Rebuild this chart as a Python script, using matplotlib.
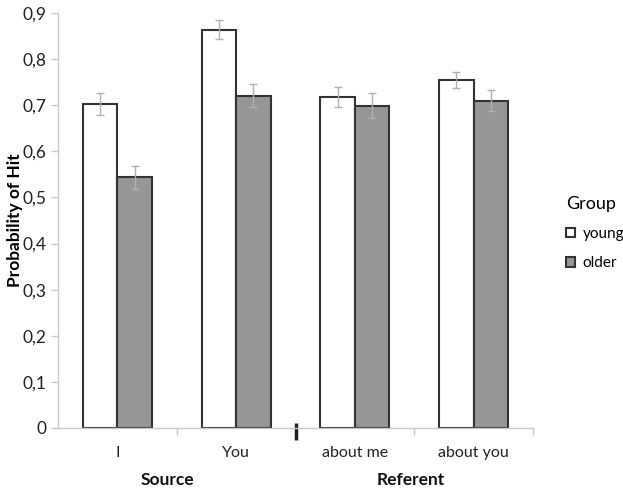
import numpy as np
import matplotlib.pyplot as plt
import matplotlib.transforms as mtransforms
plt.rcParams['font.family'] = ['Lato', 'DejaVu Sans']
plt.rcParams['font.size'] = 12.5

categories = ['I', 'You', 'about me', 'about you']
groups = ['Source', 'Referent']
young = [0.702, 0.864, 0.718, 0.755]
older = [0.544, 0.721, 0.699, 0.710]
young_err = [0.024, 0.021, 0.022, 0.018]
older_err = [0.025, 0.024, 0.027, 0.022]
yticks = [0, 0.1, 0.2, 0.3, 0.4, 0.5, 0.6, 0.7, 0.8, 0.9]

fig = plt.figure(figsize=(6.23, 4.91), dpi=100)
ax = fig.add_axes([58 / 623, 63 / 491, 475 / 623, 415 / 491])

x = np.arange(len(categories)) + 0.5
w = 0.29
errkw = dict(ecolor='#b0b0b0', elinewidth=1, capsize=3.2, capthick=1)
ax.bar(x - w / 2, young, w, yerr=young_err, color='white', edgecolor='#333333',
       lw=1.5, error_kw=errkw, label='young', zorder=2)
ax.bar(x + w / 2, older, w, yerr=older_err, color='#969696', edgecolor='#333333',
       lw=1.5, error_kw=errkw, label='older', zorder=2)

ax.set_xlim(0, 4)
ax.set_ylim(0, 0.9)
ax.set_yticks(yticks)
ax.set_yticklabels([('%.1f' % v).replace('.', ',') if v else '0' for v in yticks])
ax.set_xticks([1, 3, 4])
ax.set_xticklabels([])
ax.tick_params(axis='both', color='#c8c8c8', length=5, width=1, labelcolor='#222222')
for s in ['top', 'right']:
    ax.spines[s].set_visible(False)
for s in ['left', 'bottom']:
    ax.spines[s].set_color('#c8c8c8')
    ax.spines[s].set_linewidth(1)

for xi, c in zip(x, categories):
    ax.text(xi, -0.055, c, ha='center', va='center', fontsize=11.5, color='#222222')
for xi, g in zip([0.92, 2.97], groups):
    ax.text(xi, -0.112, g, ha='center', va='center', fontsize=12.5,
            fontweight='bold', color='#111111')

# separator mark between the two groups
trans = mtransforms.blended_transform_factory(ax.transData, ax.transAxes)
ax.plot([2, 2], [0.012, -0.029], color='#222222', lw=2.5, transform=trans,
        clip_on=False, solid_capstyle='butt')

ax.set_ylabel('Probability of Hit', fontweight='bold', fontsize=12.5)
ax.yaxis.set_label_coords(-0.073, 0.5)

leg = ax.legend(loc='center left', bbox_to_anchor=(1.04, 0.47), frameon=False,
                title='Group', handlelength=0.6, handleheight=0.6,
                handletextpad=0.5, labelspacing=1.0, fontsize=11)
leg.get_title().set_fontsize(13)
leg._legend_box.align = 'left'

plt.savefig('out.png')
